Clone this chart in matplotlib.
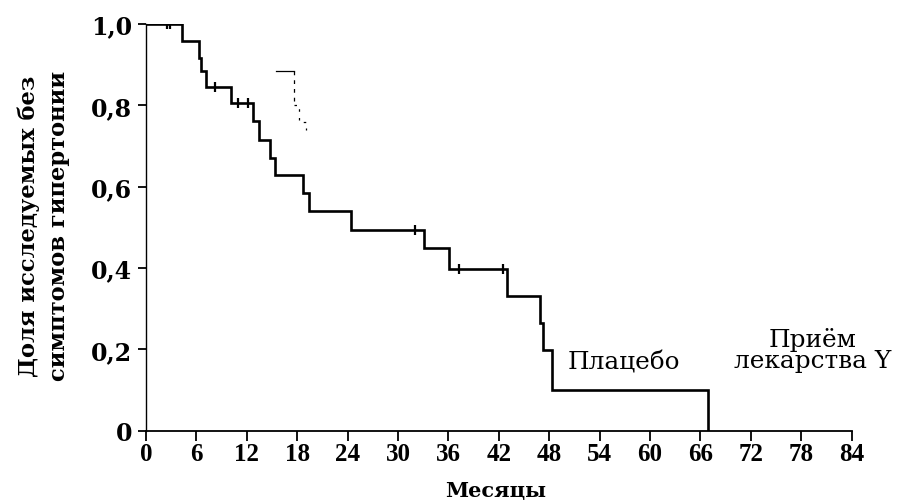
import matplotlib
matplotlib.use("Agg")
import matplotlib.pyplot as plt

# Placebo Kaplan-Meier curve: event times (months) and survival after each event
placebo_times = [0, 4.25, 6.3, 6.5, 7.2, 10.1, 12.7, 13.4, 14.8, 15.4, 18.7, 19.4,
                 24.4, 33.1, 36.1, 43.0, 46.9, 47.2, 48.3, 66.9]
placebo_surv = [1.0, 0.957, 0.916, 0.885, 0.844, 0.805, 0.762, 0.716, 0.670, 0.629,
                0.585, 0.540, 0.493, 0.449, 0.398, 0.330, 0.265, 0.199, 0.101, 0.0]
# censored observations (months)
censor_times = [2.5, 2.9, 8.2, 11.0, 12.1, 32.0, 37.2, 42.5]

# faintly printed fragment of the drug Y curve
drug_times = [15.5, 17.6, 18.2, 19.1]
drug_surv = [0.885, 0.80, 0.76, 0.74]

x_ticks = [0, 6, 12, 18, 24, 30, 36, 42, 48, 54, 60, 66, 72, 78, 84]
y_ticks = [0, 0.2, 0.4, 0.6, 0.8, 1.0]
y_tick_labels = ["0", "0,2", "0,4", "0,6", "0,8", "1,0"]

x_label = "Месяцы"
y_label = "Доля исследуемых без\nсимптомов гипертонии"
placebo_label = "Плацебо"
drug_label = "Приём\nлекарства Y"

fig = plt.figure(figsize=(9.0, 5.02), dpi=100)
ax = fig.add_axes([146 / 900, 1 - 431.7 / 502, (851.7 - 146) / 900, (431.7 - 25) / 502])

ax.step(placebo_times, placebo_surv, where="post", color="black", lw=1.9,
        solid_joinstyle="miter")


def surv_at(t):
    s = placebo_surv[0]
    for ti, si in zip(placebo_times, placebo_surv):
        if ti <= t:
            s = si
    return s


ax.plot(censor_times, [surv_at(t) for t in censor_times], linestyle="none",
        marker="|", ms=7, mew=1.6, color="black")

# drug Y fragment (barely visible in the print)
ax.plot(drug_times[:2], [drug_surv[0]] * 2, color="black", lw=0.9)
ax.step(drug_times[1:], drug_surv[1:], where="post", color="black", lw=0.9,
        linestyle=(0, (2, 5)))
ax.plot([drug_times[1], drug_times[1]], [drug_surv[0], drug_surv[1]], color="black",
        lw=0.9, linestyle=(0, (3, 4)))

ax.set_xlim(0, 84)
ax.set_ylim(0, 1.0)
ax.spines["top"].set_visible(False)
ax.spines["right"].set_visible(False)
ax.spines["left"].set_linewidth(1.0)
ax.spines["bottom"].set_linewidth(1.3)

ax.set_xticks(x_ticks)
ax.set_xticklabels([str(v) for v in x_ticks], fontfamily="Liberation Serif",
                   fontweight="bold", fontsize=18)
ax.set_yticks(y_ticks)
ax.set_yticklabels(y_tick_labels, fontfamily="DejaVu Serif", fontweight="bold",
                   fontsize=17)
ax.tick_params(axis="x", direction="out", length=7, width=1.3, pad=1)
ax.tick_params(axis="y", direction="out", length=6, width=1.3, pad=4)

ax.set_xlabel(x_label, fontfamily="DejaVu Serif", fontweight="bold", fontsize=15)
ax.xaxis.set_label_coords(0.495, -0.145)
ax.xaxis.label.set_verticalalignment("center")

ax.set_ylabel(y_label, fontfamily="DejaVu Serif", fontweight="bold", fontsize=16.3,
              linespacing=1.5)
ax.yaxis.set_label_coords(-0.145, 0.505)
ax.yaxis.label.set_verticalalignment("center")

ax.text(56.9, 0.169, placebo_label, fontfamily="DejaVu Serif", fontsize=17.8,
        ha="center", va="center")
ax.text(79.4, 0.20, drug_label, fontfamily="DejaVu Serif", fontsize=17.8,
        ha="center", va="center", linespacing=0.9)

fig.savefig("out.png", dpi=100, facecolor="white")
